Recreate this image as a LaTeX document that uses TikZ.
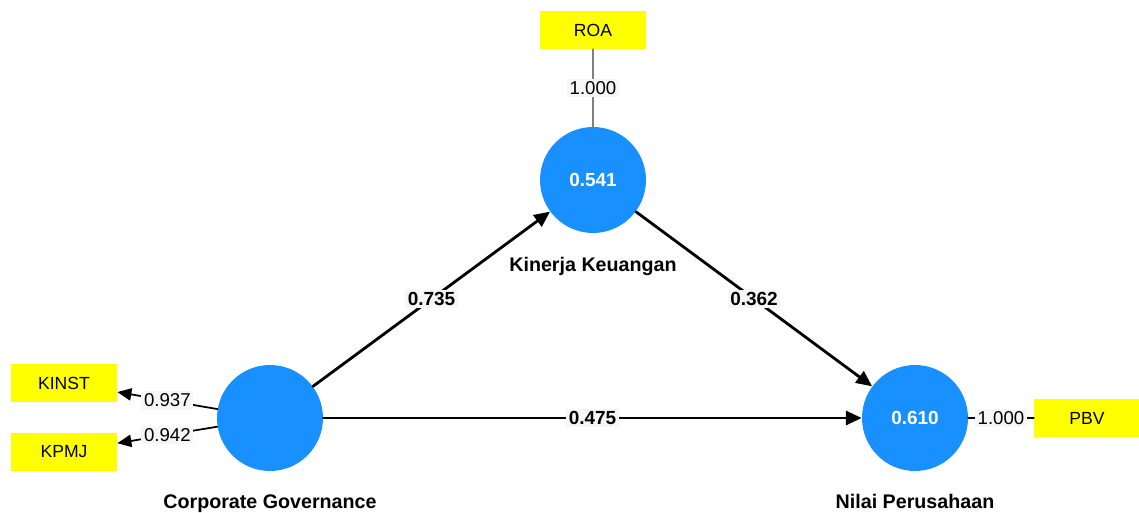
\documentclass[tikz,border=0pt]{standalone}
\usepackage{fontspec}
\setmainfont{Liberation Sans}
\usetikzlibrary{arrows.meta,positioning}
\definecolor{lvblue}{RGB}{24,144,255}
\definecolor{indyellow}{RGB}{255,255,0}
\definecolor{lblgray}{RGB}{246,246,246}
\definecolor{roagray}{RGB}{128,128,128}

\begin{document}
\begin{tikzpicture}[x=0.02cm,y=-0.02cm,line cap=round,line join=round,
  latent/.style={circle,fill=lvblue,minimum size=2.12cm,inner sep=0pt,text=white,font=\fontsize{10.8}{12}\selectfont\bfseries},
  indicator/.style={fill=indyellow,minimum width=2.12cm,minimum height=0.76cm,inner sep=0pt,font=\fontsize{10}{12}\selectfont},
  lvname/.style={inner sep=0pt,anchor=north,font=\fontsize{11.2}{13}\selectfont\bfseries},
  pathline/.style={line width=1.6pt,-{Triangle[length=9pt,width=8pt]}},
  loading/.style={line width=1pt,-{Triangle[length=8pt,width=7pt]}},
  outerline/.style={line width=1.3pt},
  pathval/.style={fill=lblgray,inner sep=1.5pt,font=\fontsize{10.8}{12}\selectfont\bfseries},
  loadval/.style={fill=lblgray,inner sep=1.5pt,font=\fontsize{10.6}{12}\selectfont}]
\useasboundingbox (0,0) rectangle (1139,513);
\node[latent] (cg) at (270,418) {};
\node[latent] (kk) at (593,180) {0.541};
\node[latent] (np) at (915,418) {0.610};
\node[lvname,below=0.46cm of cg] (cgname) {Corporate Governance};
\node[lvname,below=0.48cm of kk] (kkname) {Kinerja Keuangan};
\node[lvname,below=0.46cm of np] (npname) {Nilai Perusahaan};
\node[indicator] (kinst) at (64,383) {KINST};
\node[indicator] (kpmj) at (64,452) {KPMJ};
\node[indicator] (roa) at (593,30) {ROA};
\node[indicator] (pbv) at (1087,418) {PBV};
\draw[pathline] (cg) -- node[pathval] {0.735} (kk);
\draw[pathline] (kk) -- node[pathval] {0.362} (np);
\draw[pathline] (cg) -- node[pathval] {0.475} (np);
\draw[loading] (cg) -- node[loadval] {0.937} (kinst);
\draw[loading] (cg) -- node[loadval] {0.942} (kpmj);
\draw[outerline,roagray] (roa) -- node[loadval,text=black] {1.000} (kk);
\draw[outerline] (np) -- node[loadval] {1.000} (pbv);
\end{tikzpicture}
\end{document}
